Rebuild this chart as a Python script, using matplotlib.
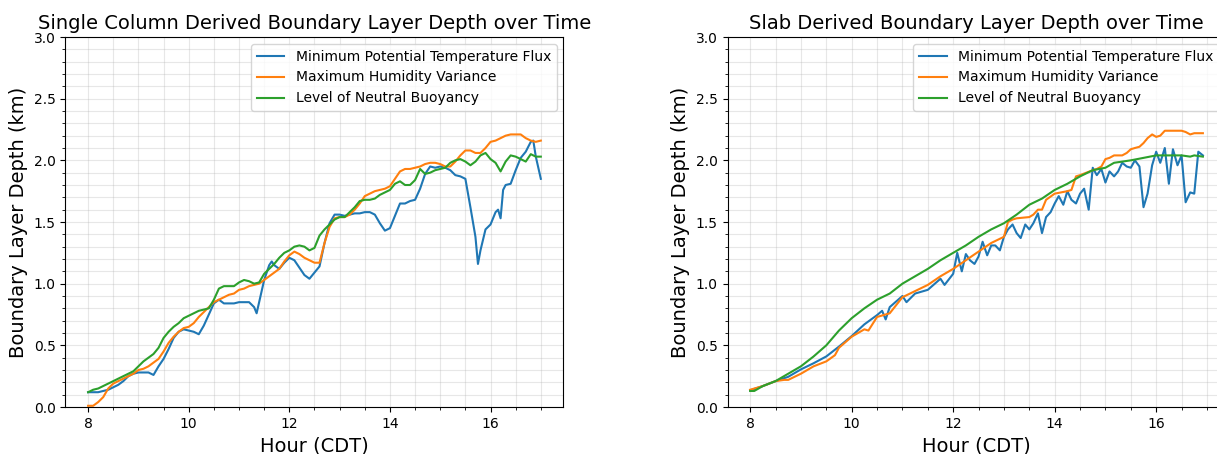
import numpy as np
import matplotlib.pyplot as plt

# single column retrievals (hours CDT, depth km)
sc_hours = [8.0, 8.1, 8.2, 8.3, 8.4, 8.5, 8.6, 8.7, 8.8, 8.9,
            9.0, 9.1, 9.2, 9.3, 9.4, 9.5, 9.6, 9.7, 9.8, 9.9,
            10.0, 10.1, 10.2, 10.3, 10.4, 10.5, 10.6, 10.7, 10.8, 10.9,
            11.0, 11.1, 11.2, 11.3, 11.4, 11.5, 11.6, 11.7, 11.8, 11.9,
            12.0, 12.1, 12.2, 12.3, 12.4, 12.5, 12.6, 12.7, 12.8, 12.9,
            13.0, 13.1, 13.2, 13.3, 13.4, 13.5, 13.6, 13.7, 13.8, 13.9,
            14.0, 14.1, 14.2, 14.3, 14.4, 14.5, 14.6, 14.7, 14.8, 14.9,
            15.0, 15.1, 15.2, 15.3, 15.4, 15.5, 15.6, 15.7, 15.8, 15.9,
            16.0, 16.1, 16.2, 16.3, 16.4, 16.5, 16.6, 16.7, 16.8, 16.9, 17.0]

sc_flux_hours = [8.0, 8.1, 8.2, 8.3, 8.4, 8.5, 8.6, 8.7, 8.8, 8.9,
                 9.0, 9.1, 9.2, 9.3, 9.4, 9.5, 9.6, 9.7, 9.8, 9.9,
                 10.0, 10.1, 10.2, 10.3, 10.4, 10.5, 10.6, 10.7, 10.8, 10.9,
                 11.0, 11.1, 11.2, 11.3, 11.35, 11.4, 11.5, 11.6, 11.65, 11.7, 11.8, 11.9,
                 12.0, 12.1, 12.2, 12.3, 12.4, 12.5, 12.6, 12.7, 12.8, 12.9,
                 13.0, 13.1, 13.2, 13.3, 13.4, 13.5, 13.6, 13.7, 13.8, 13.9,
                 14.0, 14.1, 14.2, 14.3, 14.4, 14.5, 14.6, 14.7, 14.8, 14.9,
                 15.0, 15.1, 15.2, 15.3, 15.4, 15.5, 15.6, 15.7, 15.75, 15.8, 15.9,
                 16.0, 16.1, 16.15, 16.2, 16.25, 16.3, 16.4, 16.5, 16.6, 16.7, 16.8, 16.85, 16.9, 17.0]
sc_flux = [0.12, 0.12, 0.12, 0.13, 0.14, 0.16, 0.18, 0.21, 0.25, 0.27,
           0.28, 0.28, 0.28, 0.26, 0.33, 0.39, 0.47, 0.56, 0.61, 0.63,
           0.62, 0.61, 0.59, 0.66, 0.75, 0.84, 0.87, 0.84, 0.84, 0.84,
           0.85, 0.85, 0.85, 0.81, 0.76, 0.85, 1.03, 1.15, 1.18, 1.15, 1.12, 1.17,
           1.21, 1.19, 1.13, 1.07, 1.04, 1.09, 1.14, 1.33, 1.49, 1.56,
           1.56, 1.55, 1.56, 1.57, 1.57, 1.58, 1.58, 1.56, 1.49, 1.43,
           1.45, 1.55, 1.65, 1.65, 1.67, 1.68, 1.77, 1.89, 1.95, 1.94,
           1.95, 1.94, 1.92, 1.88, 1.87, 1.85, 1.62, 1.38, 1.16, 1.27, 1.44,
           1.48, 1.58, 1.60, 1.53, 1.76, 1.80, 1.81, 1.92, 2.02, 2.07, 2.15, 2.16, 2.03, 1.85]

sc_humidity = [0.01, 0.01, 0.04, 0.08, 0.15, 0.19, 0.21, 0.23, 0.25, 0.27,
               0.30, 0.31, 0.33, 0.36, 0.39, 0.45, 0.52, 0.57, 0.61, 0.64,
               0.65, 0.68, 0.73, 0.77, 0.81, 0.85, 0.87, 0.89, 0.91, 0.92,
               0.95, 0.96, 0.98, 0.99, 1.00, 1.03, 1.06, 1.09, 1.12, 1.18,
               1.23, 1.26, 1.24, 1.21, 1.19, 1.17, 1.17, 1.33, 1.46, 1.53,
               1.54, 1.54, 1.56, 1.60, 1.65, 1.71, 1.73, 1.75, 1.76, 1.77,
               1.79, 1.85, 1.91, 1.93, 1.93, 1.94, 1.95, 1.97, 1.98, 1.98,
               1.97, 1.95, 1.95, 1.99, 2.04, 2.08, 2.08, 2.06, 2.06, 2.10,
               2.15, 2.16, 2.18, 2.20, 2.21, 2.21, 2.21, 2.18, 2.16, 2.15, 2.16]

sc_lnb = [0.12, 0.14, 0.15, 0.17, 0.19, 0.21, 0.23, 0.25, 0.27, 0.29,
          0.33, 0.37, 0.40, 0.43, 0.48, 0.56, 0.61, 0.65, 0.68, 0.72,
          0.74, 0.76, 0.78, 0.79, 0.80, 0.87, 0.96, 0.98, 0.98, 0.98,
          1.01, 1.03, 1.02, 1.00, 1.01, 1.08, 1.12, 1.16, 1.21, 1.25,
          1.27, 1.30, 1.31, 1.30, 1.27, 1.29, 1.39, 1.44, 1.48, 1.52,
          1.54, 1.54, 1.58, 1.62, 1.67, 1.68, 1.68, 1.69, 1.72, 1.74,
          1.76, 1.81, 1.83, 1.80, 1.80, 1.84, 1.93, 1.89, 1.90, 1.92,
          1.93, 1.94, 1.98, 2.00, 2.01, 1.99, 1.96, 1.99, 2.04, 2.06,
          2.01, 1.98, 1.91, 1.99, 2.04, 2.03, 2.01, 1.99, 2.05, 2.03, 2.03]

# slab retrievals
slab_flux_hours = [8.0, 8.25, 8.5, 8.75, 9.0, 9.25, 9.5, 9.75, 10.0, 10.25,
                   10.5, 10.6, 10.67, 10.75, 11.0, 11.08, 11.25, 11.5, 11.75, 11.83,
                   12.0, 12.08, 12.17, 12.25, 12.33, 12.42, 12.5, 12.58, 12.67, 12.75,
                   12.83, 12.92, 13.0, 13.08, 13.17, 13.25, 13.33, 13.42, 13.5, 13.58,
                   13.67, 13.75, 13.83, 13.92, 14.0, 14.08, 14.17, 14.25, 14.33, 14.42,
                   14.5, 14.58, 14.67, 14.75, 14.83, 14.92, 15.0, 15.08, 15.17, 15.25,
                   15.33, 15.42, 15.5, 15.58, 15.67, 15.75, 15.83, 15.92, 16.0, 16.08,
                   16.17, 16.25, 16.33, 16.42, 16.5, 16.58, 16.67, 16.75, 16.83, 16.92]
slab_flux = [0.135, 0.17, 0.21, 0.245, 0.305, 0.355, 0.41, 0.49, 0.575, 0.67,
             0.745, 0.78, 0.71, 0.81, 0.90, 0.85, 0.92, 0.95, 1.04, 0.99,
             1.08, 1.25, 1.10, 1.24, 1.19, 1.16, 1.22, 1.34, 1.23, 1.31,
             1.31, 1.27, 1.38, 1.44, 1.48, 1.41, 1.37, 1.48, 1.44, 1.49,
             1.57, 1.41, 1.54, 1.58, 1.65, 1.71, 1.64, 1.75, 1.68, 1.65,
             1.73, 1.77, 1.60, 1.94, 1.88, 1.93, 1.82, 1.91, 1.87, 1.91,
             1.98, 1.95, 1.94, 2.00, 1.95, 1.62, 1.73, 1.96, 2.07, 1.98,
             2.10, 1.81, 2.09, 1.96, 2.04, 1.66, 1.74, 1.73, 2.07, 2.04]

slab_hum_hours = [8.0, 8.25, 8.5, 8.67, 8.75, 9.0, 9.25, 9.5, 9.67, 9.75,
                  10.0, 10.25, 10.33, 10.5, 10.75, 11.0, 11.25, 11.5, 11.75, 12.0,
                  12.25, 12.5, 12.75, 13.0, 13.08, 13.17, 13.25, 13.5, 13.58, 13.67,
                  13.75, 13.83, 14.0, 14.25, 14.33, 14.42, 14.5, 14.75, 14.83, 14.92,
                  15.0, 15.08, 15.17, 15.25, 15.33, 15.42, 15.5, 15.58, 15.67, 15.75,
                  15.83, 15.92, 16.0, 16.08, 16.17, 16.25, 16.5, 16.58, 16.67, 16.75, 16.92]
slab_humidity = [0.14, 0.17, 0.21, 0.22, 0.22, 0.27, 0.33, 0.37, 0.42, 0.48,
                 0.57, 0.63, 0.62, 0.73, 0.76, 0.89, 0.94, 0.99, 1.06, 1.12,
                 1.19, 1.26, 1.33, 1.38, 1.50, 1.52, 1.53, 1.54, 1.56, 1.60,
                 1.60, 1.68, 1.73, 1.75, 1.76, 1.87, 1.88, 1.92, 1.93, 1.95,
                 2.01, 2.02, 2.04, 2.04, 2.04, 2.06, 2.09, 2.10, 2.11, 2.14,
                 2.18, 2.21, 2.19, 2.20, 2.24, 2.24, 2.24, 2.23, 2.21, 2.22, 2.22]

slab_lnb_hours = [8.0, 8.08, 8.25, 8.5, 8.75, 9.0, 9.25, 9.5, 9.75, 10.0,
                  10.25, 10.5, 10.75, 11.0, 11.25, 11.5, 11.75, 12.0, 12.25, 12.5,
                  12.75, 13.0, 13.25, 13.5, 13.75, 14.0, 14.25, 14.5, 14.75, 15.0,
                  15.17, 15.5, 15.75, 16.0, 16.5, 16.67, 16.75, 16.92]
slab_lnb = [0.13, 0.13, 0.17, 0.21, 0.27, 0.33, 0.41, 0.50, 0.62, 0.72,
            0.80, 0.87, 0.92, 1.00, 1.06, 1.12, 1.19, 1.25, 1.31, 1.38,
            1.44, 1.49, 1.56, 1.64, 1.69, 1.76, 1.81, 1.87, 1.92, 1.94,
            1.98, 2.00, 2.02, 2.04, 2.04, 2.03, 2.04, 2.03]

labels = ['Minimum Potential Temperature Flux', 'Maximum Humidity Variance',
          'Level of Neutral Buoyancy']

fig = plt.figure(figsize=(12.17, 4.54), dpi=100)
ax1 = fig.add_axes([0.0538, 0.1035, 0.4092, 0.815])
ax2 = fig.add_axes([0.5978, 0.1035, 0.4092, 0.815])

ax1.plot(sc_flux_hours, sc_flux, label=labels[0])
ax1.plot(sc_hours, sc_humidity, label=labels[1])
ax1.plot(sc_hours, sc_lnb, label=labels[2])
ax1.set_title('Single Column Derived Boundary Layer Depth over Time', fontsize=14)

ax2.plot(slab_flux_hours, slab_flux, label=labels[0])
ax2.plot(slab_hum_hours, slab_humidity, label=labels[1])
ax2.plot(slab_lnb_hours, slab_lnb, label=labels[2])
ax2.set_title('Slab Derived Boundary Layer Depth over Time', fontsize=14)

for ax in (ax1, ax2):
    ax.set_ylim(0, 3)
    ax.set_xlabel('Hour (CDT)', fontsize=14)
    ax.set_ylabel('Boundary Layer Depth (km)', fontsize=14)
    ax.minorticks_on()
    ax.grid(which='both', alpha=0.3)
    ax.legend(loc='upper right')

fig.savefig('out.png', dpi=100)
